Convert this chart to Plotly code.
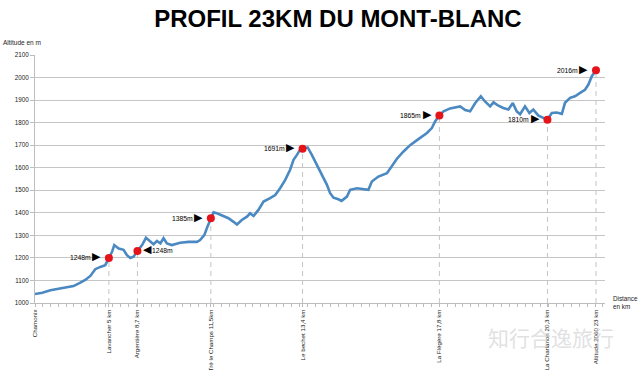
import plotly.graph_objects as go

TITLE = "PROFIL 23KM DU MONT-BLANC"

# Elevation profile (distance on the chart's horizontal scale in km, altitude in m)
dist_km = [0.00, 0.30, 0.63, 0.95, 1.31, 1.58, 1.86, 2.06, 2.27, 2.47, 2.68, 2.88,
           3.03, 3.16, 3.25, 3.43, 3.63, 3.77, 3.91, 4.04, 4.20, 4.39, 4.55, 4.73,
           4.86, 5.00, 5.14, 5.27, 5.41, 5.61, 5.95, 6.30, 6.64, 6.77, 6.94, 7.07,
           7.21, 7.32, 7.46, 7.66, 7.93, 8.14, 8.28, 8.48, 8.69, 8.82, 8.96, 9.16,
           9.37, 9.64, 9.85, 10.05, 10.26, 10.46, 10.60, 10.74, 10.87, 10.97, 11.18,
           11.35, 11.56, 11.76, 11.97, 12.10, 12.24, 12.44, 12.57, 12.79, 12.92,
           13.20, 13.47, 13.67, 13.81, 14.08, 14.43, 14.63, 14.84, 15.11, 15.38,
           15.72, 16.07, 16.27, 16.41, 16.58, 16.75, 17.02, 17.23, 17.43, 17.64,
           17.84, 18.05, 18.28, 18.45, 18.66, 18.80, 19.00, 19.20, 19.41, 19.59,
           19.75, 19.89, 20.09, 20.27, 20.43, 20.64, 20.84, 21.01, 21.19, 21.39,
           21.60, 21.73, 21.94, 22.14, 22.35, 22.55, 22.69, 22.83, 23.00]
alt_m = [1040, 1045, 1057, 1063, 1071, 1075, 1090, 1102, 1120, 1150, 1160, 1168,
         1200, 1227, 1257, 1242, 1236, 1212, 1200, 1205, 1231, 1257, 1289, 1271,
         1261, 1275, 1264, 1287, 1264, 1257, 1267, 1271, 1271, 1279, 1301, 1338,
         1376, 1402, 1398, 1389, 1376, 1360, 1348, 1368, 1383, 1398, 1386, 1413,
         1450, 1465, 1479, 1509, 1546, 1591, 1635, 1657, 1680, 1684, 1690,
         1657, 1613, 1568, 1524, 1487, 1467, 1460, 1453, 1472, 1502,
         1509, 1505, 1502, 1539, 1561, 1576, 1605, 1640, 1672, 1700,
         1727, 1754, 1776, 1806, 1832, 1850, 1863, 1867, 1872, 1856,
         1850, 1887, 1917, 1894, 1872, 1890, 1875, 1865, 1858, 1887,
         1850, 1837, 1872, 1843, 1858, 1831, 1821, 1813, 1843, 1845,
         1839, 1888, 1910, 1917, 1932, 1946, 1969, 2006, 2032]

# Stations (x-axis labels)
station_names = ["Chamonix", "Lavancher 5 km", "Argentière 8,7 km", "Tré le Champs 11,5km",
                 "Le bechet 13,4 km", "La Flégère 17,8 km", "La Charlanon 20,3 km",
                 "Altitude 2060 23 km"]
station_km = [0.0, 3.03, 4.20, 7.21, 10.97, 16.58, 21.01, 23.0]

# Marked points
point_km = [3.03, 4.20, 7.21, 10.97, 16.58, 21.01, 23.0]
point_alt = [1200, 1231, 1376, 1684, 1832, 1813, 2032]
point_labels = ["1248m", "1248m", "1385m", "1691m", "1865m", "1810m", "2016m"]
label_side = ["left", "right", "left", "left", "left", "left", "left"]

y_ticks = list(range(1000, 2101, 100))

FONT = "Liberation Sans Narrow, Liberation Sans, Arial, sans-serif"
LINE_BLUE = "#4a89c2"
DOT_RED = "#e5141b"
GRID = "#c6c6c6"

fig = go.Figure()

# dashed drop lines from points to axis
dx, dy = [], []
for k, a in zip(point_km, point_alt):
    dx += [k, k, None]
    dy += [1000, a, None]
fig.add_trace(go.Scatter(x=dx, y=dy, mode="lines",
                         line=dict(color="#c4c4c4", width=1, dash="5px,4px"),
                         hoverinfo="skip", showlegend=False))

fig.add_trace(go.Scatter(x=dist_km, y=alt_m, mode="lines",
                         line=dict(color=LINE_BLUE, width=2.6),
                         hoverinfo="skip", showlegend=False))

fig.add_trace(go.Scatter(x=point_km, y=point_alt, mode="markers",
                         marker=dict(color=DOT_RED, size=8),
                         hoverinfo="skip", showlegend=False))

annotations = []
for k, a, lab, side in zip(point_km, point_alt, point_labels, label_side):
    if side == "left":
        annotations.append(dict(x=k, y=a, xref="x", yref="y", text="▶", showarrow=False,
                                xanchor="center", yanchor="middle", xshift=-12, yshift=1,
                                font=dict(family="DejaVu Sans", size=11, color="black")))
        annotations.append(dict(x=k, y=a, xref="x", yref="y", text=lab, showarrow=False,
                                xanchor="right", yanchor="middle", xshift=-16,
                                font=dict(family=FONT, size=6.8, color="black")))
    else:
        annotations.append(dict(x=k, y=a, xref="x", yref="y", text="◀", showarrow=False,
                                xanchor="center", yanchor="middle", xshift=10, yshift=1,
                                font=dict(family="DejaVu Sans", size=11, color="black")))
        annotations.append(dict(x=k, y=a, xref="x", yref="y", text=lab, showarrow=False,
                                xanchor="left", yanchor="middle", xshift=13,
                                font=dict(family=FONT, size=6.8, color="black")))

annotations.append(dict(x=-0.0588, y=1.0496, xref="paper", yref="paper",
                        text="Altitude en m", showarrow=False, xanchor="left", yanchor="middle",
                        font=dict(family=FONT, size=6.5, color="#222")))
annotations.append(dict(x=1.010, y=0.004, xref="paper", yref="paper",
                        text="Distance<br>en km", showarrow=False, xanchor="left",
                        yanchor="middle", align="left",
                        font=dict(family=FONT, size=6.3, color="#222")))
annotations.append(dict(x=0.905, y=-0.137, xref="paper", yref="paper",
                        text="知行合逸旅行", showarrow=False, xanchor="center", yanchor="middle",
                        font=dict(family="Noto Sans CJK SC", size=21, color="rgba(200,200,200,0.55)")))

fig.update_layout(
    width=640, height=370,
    margin=dict(l=35, r=35, t=55, b=67, autoexpand=False),
    paper_bgcolor="white", plot_bgcolor="white",
    title=dict(text=TITLE, x=0.528, y=0.951, xanchor="center", yanchor="middle",
               automargin=False,
               font=dict(family="Liberation Sans, Arial, sans-serif", size=24,
                         color="black", weight="bold")),
    annotations=annotations,
    showlegend=False,
)

fig.update_xaxes(range=[0, 23.37], showgrid=False, zeroline=False, automargin=False,
                 showline=True, linecolor="#bdbdbd", linewidth=1,
                 tickmode="array", tickvals=station_km, ticktext=station_names,
                 ticks="outside", ticklen=3, tickcolor="#bdbdbd", tickangle=-90,
                 tickfont=dict(family=FONT, size=6.2, color="#222"),
                 minor=dict(ticks="outside", ticklen=3, tickcolor="#bdbdbd",
                            tick0=0, dtick=0.3189, showgrid=False))

fig.update_yaxes(range=[1000, 2100], tickvals=y_ticks, zeroline=False, automargin=False,
                 showgrid=True, gridcolor=GRID, gridwidth=1.2,
                 showline=True, linecolor="#bdbdbd", linewidth=1,
                 ticks="outside", ticklen=4, tickcolor="#bdbdbd",
                 tickfont=dict(family=FONT, size=6.3, color="#222"))

fig.write_html("out.html", config={"displayModeBar": False},
               post_script="document.body.style.margin='0';document.body.style.overflow='hidden';")
